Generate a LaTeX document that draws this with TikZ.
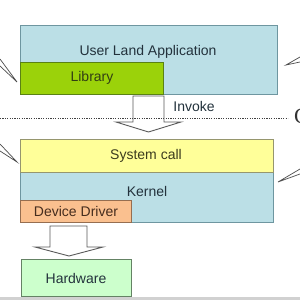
\documentclass[tikz,border=0pt]{standalone}
\usepackage{fontspec}
\setmainfont{Liberation Sans}
\newfontfamily\serifC{Liberation Serif}
\definecolor{ulblue}{RGB}{187,223,230}
\definecolor{ulborder}{RGB}{110,150,160}
\definecolor{libgreen}{RGB}{155,210,10}
\definecolor{libborder}{RGB}{90,130,20}
\definecolor{sysyellow}{RGB}{255,255,153}
\definecolor{sysborder}{RGB}{150,150,110}
\definecolor{ddorange}{RGB}{250,192,143}
\definecolor{ddborder}{RGB}{150,110,80}
\definecolor{hwgreen}{RGB}{204,255,204}
\definecolor{hwborder}{RGB}{100,130,100}
\definecolor{txt}{RGB}{35,50,60}
\definecolor{libtxt}{RGB}{50,62,20}
\definecolor{systxt}{RGB}{60,60,30}
\definecolor{ddtxt}{RGB}{70,45,30}
\definecolor{arrowline}{RGB}{90,90,90}
\tikzset{
  box/.style={draw, line width=0.9pt, inner sep=0pt, outer sep=0pt, anchor=north west},
  lbl/.style={inner sep=0pt, text=txt, font=\fontsize{14}{16}\selectfont},
  blockarrow/.style={draw=arrowline, fill=white, line width=0.9pt, line join=miter},
  pointer/.style={draw=black!70, line width=0.7pt},
}
\begin{document}
\begin{tikzpicture}[x=1pt,y=-1pt]
\useasboundingbox (0,0) rectangle (300,300);
\fill[white] (0,0) rectangle (300,300);
% top layer
\node[box, fill=ulblue, draw=ulborder, minimum width=257pt, minimum height=69pt] (ua) at (20,25) {};
\node[box, fill=libgreen, draw=libborder, minimum width=143pt, minimum height=32pt] (lib) at (20,62) {};
\node[lbl] (ualbl) at (148,52) {User Land Application};
\node[lbl, text=libtxt] (liblbl) at (92,78) {Library};
% invoke arrow
\draw[blockarrow] (133,96) -- (164,96) -- (164,122) -- (181,122) -- (148.5,132) -- (116,122) -- (133,122) -- cycle;
\node[lbl] (inv) at (194,106) {Invoke};
% dotted line
\draw[black!75, line width=0.8pt, dash pattern=on 1.2pt off 1.2pt] (0,118) -- (288,118);
\node[inner sep=0pt, anchor=west, font=\serifC\fontsize{22}{24}\selectfont, text=black!80] (c) at (294,116) {C};
% kernel layer
\node[box, fill=ulblue, draw=ulborder, minimum width=253pt, minimum height=50pt] (kern) at (20,172) {};
\node[box, fill=sysyellow, draw=sysborder, minimum width=253pt, minimum height=33pt] (sys) at (20,139) {};
\node[box, fill=ddorange, draw=ddborder, minimum width=111pt, minimum height=22pt] (dd) at (20,200) {};
\node[lbl, text=systxt] (syslbl) at (146,156) {System call};
\node[lbl] (kernlbl) at (147,191) {Kernel};
\node[lbl, text=ddtxt] (ddlbl) at (76,211) {Device Driver};
% hardware arrow
\draw[blockarrow] (50,226) -- (87,226) -- (87,247) -- (103,247) -- (69,256) -- (35,247) -- (50,247) -- cycle;
% hardware
\node[box, fill=hwgreen, draw=hwborder, minimum width=110pt, minimum height=37pt] (hw) at (21,259) {};
\node[lbl] (hwlbl) at (76,278) {Hardware};
% pointers from outside
\coordinate (p1) at (17,82);
\coordinate (p2) at (17,162);
\coordinate (p3) at (286,65);
\coordinate (p4) at (278,182);
\draw[pointer] (0,59) -- (p1) -- (0,66);
\draw[pointer] (0,144) -- (p2) -- (0,151);
\draw[pointer] (300,57) -- (p3) -- (300,62);
\draw[pointer] (300,169) -- (p4) -- (300,174);
% bottom line
\fill[black!18] (0,297) rectangle (300,300);
\end{tikzpicture}
\end{document}
